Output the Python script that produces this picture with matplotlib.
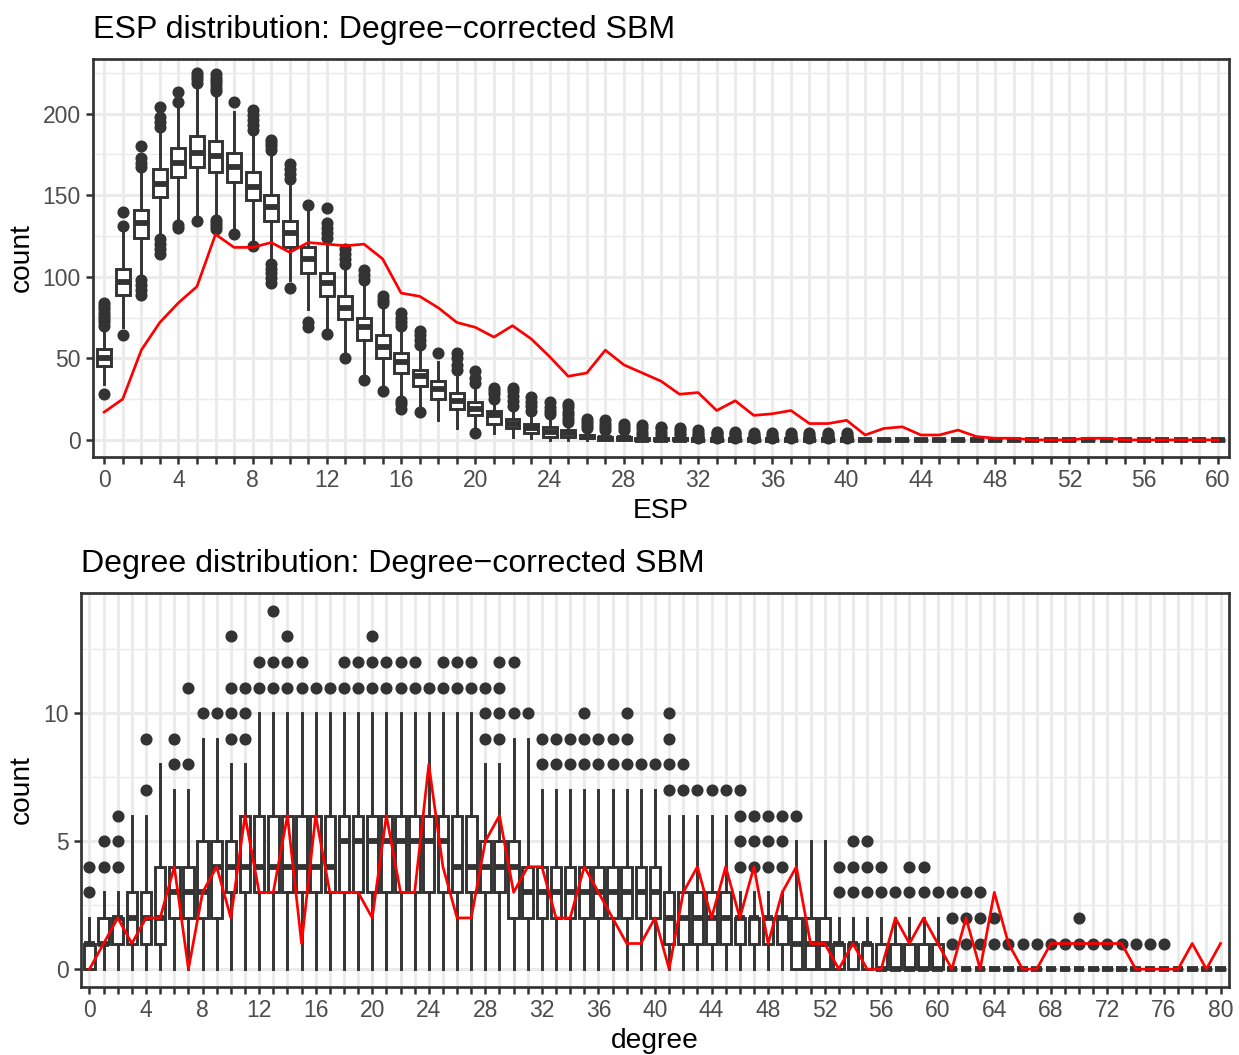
"""ESP and degree distributions: simulated boxplots vs observed network (red)"""
import matplotlib
matplotlib.use("Agg")
import matplotlib.pyplot as plt
from matplotlib.ticker import MultipleLocator

plt.rcParams['font.family'] = ['Liberation Sans', 'DejaVu Sans']

# ---- ESP panel data (0..60) ----
esp_cats = list(range(61))
esp_q1 = [45, 89, 124, 149, 161, 167, 164, 158, 147, 134,
          118, 102, 88, 74, 61, 50, 41, 33, 25, 19,
          15, 10, 7, 4, 2, 2, 1, 0, 0, 0,
          0, 0, 0, 0, 0, 0, 0, 0, 0, 0,
          0, 0, 0, 0, 0, 0, 0, 0, 0, 0,
          0, 0, 0, 0, 0, 0, 0, 0, 0, 0, 0]
esp_med = [50, 97, 133, 157, 170, 176, 174, 167, 155, 143,
           127, 111, 96, 81, 69, 57, 48, 39, 31, 24,
           19, 15, 10, 7, 5, 4, 2, 1, 1, 0,
           0, 0, 0, 0, 0, 0, 0, 0, 0, 0,
           0, 0, 0, 0, 0, 0, 0, 0, 0, 0,
           0, 0, 0, 0, 0, 0, 0, 0, 0, 0, 0]
esp_q3 = [56, 105, 141, 166, 179, 186, 183, 176, 164, 150,
          134, 118, 102, 88, 75, 64, 53, 43, 36, 29,
          23, 18, 13, 10, 8, 6, 3, 2, 2, 1,
          1, 1, 0, 0, 0, 0, 0, 0, 0, 0,
          0, 0, 0, 0, 0, 0, 0, 0, 0, 0,
          0, 0, 0, 0, 0, 0, 0, 0, 0, 0, 0]
esp_lo = [34, 69, 100, 124, 133, 137, 137, 129, 121, 110,
          98, 80, 66, 51, 38, 31, 26, 19, 12, 7,
          7, 4, 2, 1, 0, 0, 0, 0, 0, 0,
          0, 0, 0, 0, 0, 0, 0, 0, 0, 0,
          0, 0, 0, 0, 0, 0, 0, 0, 0, 0,
          0, 0, 0, 0, 0, 0, 0, 0, 0, 0, 0]
esp_hi = [68, 129, 165, 190, 205, 218, 212, 201, 189, 176,
          158, 143, 123, 107, 97, 82, 68, 56, 48, 41,
          32, 24, 20, 16, 14, 10, 6, 5, 5, 2,
          2, 2, 0, 0, 0, 0, 0, 0, 0, 0,
          0, 0, 0, 0, 0, 0, 0, 0, 0, 0,
          0, 0, 0, 0, 0, 0, 0, 0, 0, 0, 0]
esp_out = [[28, 70, 72, 74, 76, 78, 80, 82, 84],
           [64, 131, 140],
           [89, 92, 95, 98, 167, 170, 173, 180],
           [114, 117, 120, 123, 192, 195, 198, 204],
           [130, 132, 207, 213],
           [134, 219, 221, 223, 225],
           [129, 131, 133, 135, 214, 216, 218, 220, 222, 224],
           [126, 207],
           [119, 190, 193, 196, 199, 202],
           [96, 99, 102, 105, 108, 178, 180, 182, 184],
           [93, 160, 163, 166, 169],
           [69, 72, 144],
           [65, 124, 127, 130, 133, 142],
           [50, 108, 111, 114, 117],
           [37, 98, 101, 104],
           [30, 84, 86, 88],
           [19, 22, 24, 70, 72, 75, 78],
           [17, 58, 61, 64, 67],
           [53],
           [43, 46, 50, 53],
           [4, 35, 38, 42],
           [25, 28, 30, 32],
           [21, 24, 27, 30, 32],
           [18, 21, 23, 26],
           [16, 18, 20, 23],
           [11, 13, 15, 17, 20, 22],
           [7, 9, 11, 13],
           [6, 8, 10, 12],
           [6, 8, 10],
           [3, 5, 7, 9],
           [3, 5, 7, 8],
           [3, 4, 6, 7],
           [1, 2, 3, 4, 6],
           [1, 2, 3, 4, 5],
           [1, 2, 3, 4, 5],
           [1, 2, 3, 4],
           [1, 2, 3, 4],
           [1, 2, 3, 4],
           [1, 2, 3, 4],
           [1, 2, 3, 4],
           [1, 2, 3, 4],
           [], [], [], [], [], [], [], [], [], [],
           [], [], [], [], [], [], [], [], [], []]
esp_obs = [17, 25, 55, 72, 84, 94, 126, 118, 118, 121,
           115, 121, 120, 119, 120, 111, 90, 88, 81, 72,
           69, 63, 70, 62, 51, 39, 41, 55, 46, 41,
           36, 28, 29, 18, 24, 15, 16, 18, 10, 10,
           12, 3, 7, 8, 3, 3, 6, 2, 1, 1,
           0, 0, 0, 1, 1, 0, 0, 0, 0, 0, 0]

# ---- degree panel data (0..80) ----
deg_cats = list(range(81))
deg_q1 = [0, 1, 1, 1, 1, 1, 2, 2, 2, 2,
          3, 3, 3, 3, 3, 3, 3, 3, 3, 3,
          3, 3, 3, 3, 3, 3, 3, 3, 3, 3,
          2, 2, 2, 2, 2, 2, 2, 2, 2, 2,
          2, 1, 1, 1, 1, 1, 1, 1, 1, 1,
          0, 0, 0, 0, 0, 0, 0, 0, 0, 0,
          0, 0, 0, 0, 0, 0, 0, 0, 0, 0,
          0, 0, 0, 0, 0, 0, 0, 0, 0, 0, 0]
deg_med = [1, 1, 2, 2, 2, 2, 3, 3, 3, 4,
           4, 4, 4, 4, 4, 4, 4, 4, 5, 5,
           5, 5, 5, 5, 5, 5, 4, 4, 4, 4,
           4, 3, 3, 3, 3, 3, 3, 3, 3, 3,
           3, 2, 2, 2, 2, 2, 2, 2, 2, 2,
           1, 1, 1, 1, 1, 1, 0, 0, 0, 0,
           0, 0, 0, 0, 0, 0, 0, 0, 0, 0,
           0, 0, 0, 0, 0, 0, 0, 0, 0, 0, 0]
deg_q3 = [1, 2, 2, 3, 3, 4, 4, 4, 5, 5,
          5, 6, 6, 6, 6, 6, 6, 6, 6, 6,
          6, 6, 6, 6, 6, 6, 6, 6, 5, 5,
          5, 4, 4, 4, 4, 4, 4, 4, 4, 4,
          4, 3, 3, 3, 3, 3, 2, 2, 2, 2,
          2, 2, 2, 1, 1, 1, 1, 1, 1, 1,
          1, 0, 0, 0, 0, 0, 0, 0, 0, 0,
          0, 0, 0, 0, 0, 0, 0, 0, 0, 0, 0]
deg_hi = [2, 3, 3, 6, 6, 8, 7, 7, 9, 9,
          8, 8, 10, 10, 10, 10, 10, 10, 10, 10,
          10, 10, 10, 10, 10, 10, 10, 10, 8, 8,
          9, 9, 7, 7, 7, 7, 7, 7, 7, 7,
          7, 6, 6, 6, 6, 6, 3, 3, 3, 3,
          5, 5, 5, 2, 2, 2, 2, 2, 2, 2,
          2, 0, 0, 0, 0, 0, 0, 0, 0, 0,
          0, 0, 0, 0, 0, 0, 0, 0, 0, 0, 0]
deg_out = [[3, 4], [4, 5], [4, 5, 6], [], [7, 9], [], [8, 9], [8, 11], [10], [10],
           [9, 10, 11, 13], [9, 10, 11], [11, 12], [11, 12, 14], [11, 12, 13],
           [11, 12], [11], [11], [11, 12], [11, 12],
           [11, 12, 13], [11, 12], [11, 12], [11, 12], [11], [11, 12], [11, 12],
           [11, 12], [9, 10, 11], [9, 10, 11, 12],
           [10, 12], [10], [8, 9], [8, 9], [8, 9], [8, 9, 10], [8, 9], [8, 9],
           [8, 9, 10], [8],
           [8], [7, 8, 9, 10], [7, 8], [7], [7], [7], [4, 5, 6, 7], [4, 5, 6],
           [4, 5, 6], [4, 5, 6],
           [6], [], [], [3, 4], [3, 4, 5], [3, 4, 5], [3, 4], [3], [3, 4], [3, 4],
           [3], [1, 2, 3], [1, 2, 3], [1, 2, 3], [1, 2], [1], [1], [1], [1], [1],
           [1, 2], [1], [1], [1], [1], [1], [1], [], [], [], []]
deg_obs = [0, 1, 2, 1, 2, 2, 4, 0, 3, 4,
           2, 6, 3, 3, 6, 1, 6, 3, 3, 3,
           2, 6, 3, 3, 8, 4, 2, 2, 5, 6,
           3, 4, 4, 2, 2, 4, 3, 2, 1, 1,
           2, 0, 3, 4, 2, 4, 2, 4, 1, 3,
           4, 1, 1, 0, 1, 0, 0, 2, 1, 2,
           1, 0, 2, 0, 3, 1, 0, 0, 1, 1,
           1, 1, 1, 1, 0, 0, 0, 0, 1, 0, 1]

DARK = '#333333'
GRID = '#EBEBEB'


def box_stats(q1, med, q3, hi, out, lo=None):
    stats = []
    for i in range(len(q1)):
        stats.append(dict(q1=q1[i], med=med[i], q3=q3[i],
                          whislo=lo[i] if lo is not None else 0,
                          whishi=hi[i], fliers=out[i]))
    return stats


def draw_panel(ax, cats, stats, obs, title, xlabel, ymajor, yminor, ylim):
    ax.bxp(stats, positions=cats, widths=0.75, patch_artist=True,
           showcaps=False, manage_ticks=False,
           boxprops=dict(facecolor='white', edgecolor=DARK, linewidth=1.4),
           medianprops=dict(color=DARK, linewidth=2.8, solid_capstyle='butt'),
           whiskerprops=dict(color=DARK, linewidth=1.4),
           flierprops=dict(marker='o', markerfacecolor=DARK,
                           markeredgecolor=DARK, markersize=4.8))
    ax.plot(cats, obs, color='red', linewidth=1.3, zorder=5)

    ax.set_xlim(cats[0] - 0.6, cats[-1] + 0.6)
    ax.set_ylim(*ylim)
    ax.set_xticks(cats)
    ax.set_xticklabels([str(c) if c % 4 == 0 else '' for c in cats])
    ax.yaxis.set_major_locator(MultipleLocator(ymajor))
    ax.yaxis.set_minor_locator(MultipleLocator(yminor))

    ax.set_axisbelow(True)
    ax.grid(which='major', color=GRID, linewidth=1.42)
    ax.grid(which='minor', axis='y', color=GRID, linewidth=0.71)

    ax.tick_params(which='major', length=3.3, width=1.2, color=DARK,
                   labelsize=11, labelcolor='#4D4D4D', pad=2.5)
    ax.tick_params(which='minor', length=0)
    for s in ax.spines.values():
        s.set_color(DARK)
        s.set_linewidth(1.3)

    ax.set_title(title, loc='left', fontsize=15.4, pad=10)
    ax.set_xlabel(xlabel, fontsize=13.5, labelpad=3)
    ax.set_ylabel('count', fontsize=13.5, labelpad=4)


fig = plt.figure(figsize=(1239 / 150, 1055 / 150), dpi=150)
ax1 = fig.add_axes([93 / 1239, 598 / 1055, 1136 / 1239, 398 / 1055])
ax2 = fig.add_axes([81 / 1239, 68 / 1055, 1148 / 1239, 394 / 1055])

draw_panel(ax1, esp_cats,
           box_stats(esp_q1, esp_med, esp_q3, esp_hi, esp_out, esp_lo),
           esp_obs, 'ESP distribution: Degree\u2212corrected SBM', 'ESP',
           50, 25, (-10.5, 233.5))
draw_panel(ax2, deg_cats,
           box_stats(deg_q1, deg_med, deg_q3, deg_hi, deg_out),
           deg_obs, 'Degree distribution: Degree\u2212corrected SBM', 'degree',
           5, 2.5, (-0.7, 14.7))

ax1.yaxis.set_label_coords(-0.051, 0.5)
ax2.yaxis.set_label_coords(-0.040, 0.5)

fig.savefig('out.png', dpi=150)
